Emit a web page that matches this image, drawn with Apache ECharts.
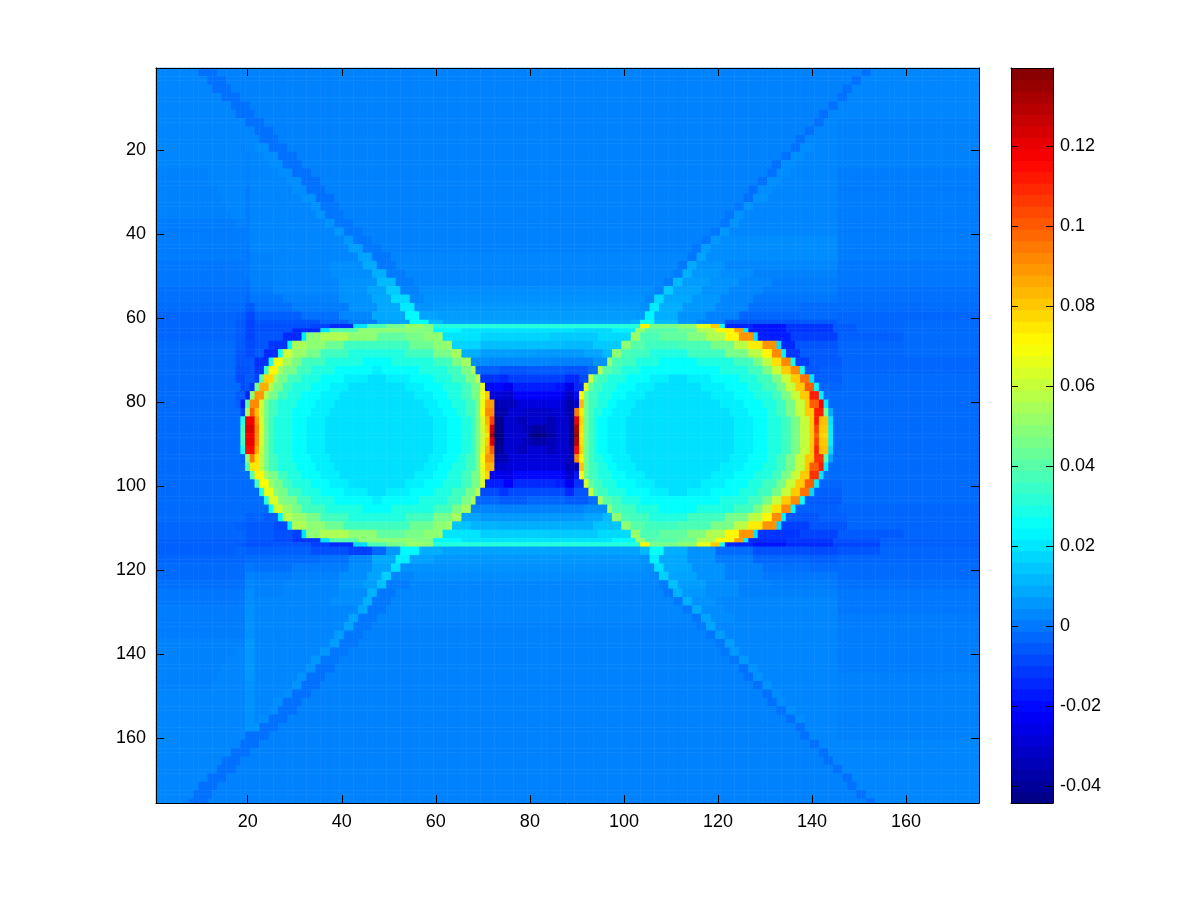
<!DOCTYPE html>
<html>
<head>
<meta charset="utf-8">
<title>heatmap</title>
<style>
  html, body { margin: 0; background: #fff; }
  #main { width: 1201px; height: 901px; }
</style>
<script src="https://cdn.jsdelivr.net/npm/echarts@6/dist/echarts.min.js"></script>
</head>
<body>
<div id="main"></div>
<script>
// axis ticks
const cellCount = 175;
const axisTicks = [20, 40, 60, 80, 100, 120, 140, 160];
const barTicks = [-0.04, -0.02, 0, 0.02, 0.04, 0.06, 0.08, 0.1, 0.12];
const barMin = -0.04425;
const barMax = 0.1395;
const barLevels = 64;
const jetStops = ['#000080', '#0000ff', '#0080ff', '#00ffff', '#80ff80', '#ffff00', '#ff8000', '#ff0000', '#800000'];

// row by row: [firstRow, lastRow, startCol, value, startCol, value, ...]
// a value holds until the next startCol, values are in thousandths
const rowRuns = [
  [1,2, 1,3,10,-1,14,2,151,-1,153,3],
  [3,4, 1,3,12,-1,16,2,149,-1,151,3],
  [5,6, 1,3,13,-1,17,2,147,-1,149,3],
  [7,8, 1,3,15,-1,19,2,146,-1,148,3],
  [9,10, 1,3,17,-1,21,2,144,-1,146,3],
  [11,12, 1,3,18,-1,22,2,142,-1,144,3],
  [13,14, 1,3,20,-1,24,2,141,-1,143,3,146,2],
  [15,16, 1,3,22,-1,26,2,139,-1,141,3,146,2],
  [17,18, 1,3,23,-1,27,2,137,-1,139,3,146,2],
  [19,20, 1,3,19,2,20,3,22,4,25,-1,29,2,136,-1,138,4,141,3,146,2],
  [21,22, 1,3,20,2,21,3,24,4,27,-1,31,2,134,-1,136,4,139,3,146,2],
  [23,24, 1,3,20,2,21,3,25,4,28,-1,32,2,132,-1,134,4,137,3,146,2],
  [25,26, 1,2,12,3,20,2,21,3,27,4,30,-1,34,2,131,-1,133,4,136,3,146,1],
  [27,28, 1,2,12,3,20,2,21,3,29,4,32,-1,36,2,129,-1,131,4,134,3,146,1],
  [29,30, 1,2,14,3,20,1,21,3,30,4,33,-1,37,2,127,-1,129,4,132,3,146,1],
  [31,32, 1,2,15,3,20,1,21,3,32,5,35,-1,39,2,126,-1,128,5,131,3,146,1],
  [33,34, 1,2,16,3,20,1,21,3,34,5,36,0,40,2,124,0,126,5,128,3,146,1],
  [35,36, 1,2,17,3,20,1,21,3,35,5,37,0,41,2,122,0,124,5,126,3,146,1],
  [37,38, 1,1,18,2,20,1,21,3,37,5,39,0,43,2,121,0,123,5,125,3,146,1],
  [39,40, 1,1,21,3,39,6,41,0,45,2,119,0,121,6,123,3,146,1],
  [41,42, 1,1,21,3,41,6,43,0,47,2,117,0,119,6,121,4,146,1],
  [43,44, 1,1,20,0,21,3,42,7,45,0,49,2,115,0,117,7,119,4,146,1],
  [45,46, 1,1,20,0,21,2,26,3,44,8,47,0,51,3,114,0,116,8,118,4,146,1],
  [47,48, 1,0,21,2,26,3,38,4,45,9,48,0,52,3,112,0,114,9,116,5,122,3,146,0],
  [49,50, 1,0,21,2,26,3,38,4,47,10,50,1,54,3,111,1,113,10,115,6,121,4,128,2,146,0],
  [51,52, 1,0,20,-1,21,2,26,3,40,5,48,12,52,1,56,3,109,1,111,12,113,7,119,5,125,3,132,1,146,0],
  [53,54, 1,-1,20,-2,21,1,26,3,40,5,46,8,50,15,53,2,57,4,107,2,109,15,111,8,117,5,123,3,130,1,146,-1],
  [55,56, 1,-1,20,-3,21,0,28,2,40,5,47,9,51,18,55,3,58,5,105,3,107,18,109,9,115,6,121,3,128,0,146,-1],
  [57,58, 1,-2,20,-5,22,-1,30,1,42,5,48,9,53,21,56,5,60,6,104,4,106,21,108,10,113,6,120,3,127,-1,138,-2,146,-2],
  [59,60, 1,-3,18,-4,20,-8,22,-4,32,-1,40,3,47,9,54,24,57,8,61,7,103,6,105,23,107,10,112,5,118,2,125,-3,138,-2,146,-3],
  [61,61, 1,-3,18,-5,20,-9,22,-6,32,-6,36,-3,42,1,48,8,55,26,59,12,62,8,102,10,104,28,107,12,112,6,116,2,122,-6,138,-5,146,-3,160,-2],
  [62,62, 1,-3,18,-5,20,-9,22,-7,34,-9,38,-14,43,20,46,38,50,45,54,52,58,48,60,31,104,72,106,46,112,50,116,66,119,80,121,28,122,-15,128,-18,135,-12,145,-5,150,-3,160,-2],
  [63,63, 1,-3,18,-5,20,-9,22,-7,30,-14,36,20,38,40,44,50,56,48,60,24,66,20,90,18,98,22,103,52,105,40,112,44,116,56,120,72,124,88,126,22,127,-17,135,-12,145,-5,150,-3,160,-2],
  [64,65, 1,-3,18,-5,20,-9,22,-6,28,-14,32,22,33,50,36,56,42,50,48,42,54,46,58,50,61,52,62,20,70,17,85,15,95,18,102,52,104,38,108,42,114,48,118,56,122,72,125,90,128,20,129,-16,136,-10,146,-4,160,-2],
  [66,67, 1,-2,18,-5,20,-8,22,-6,25,-12,29,24,30,55,33,50,37,44,41,36,55,44,60,50,63,54,64,17,70,13,88,12,94,15,100,50,102,40,105,36,112,38,119,46,124,58,127,74,130,90,133,18,134,-14,137,-6,146,-3,160,-2],
  [68,69, 1,-2,18,-6,20,-8,22,-5,24,-14,27,28,28,62,30,52,33,46,36,36,42,30,54,36,60,46,64,54,66,10,70,7,82,6,92,8,96,12,98,50,100,38,102,36,106,30,114,36,122,46,127,58,130,72,132,92,134,22,135,-12,138,-5,146,-3,160,-2],
  [70,71, 1,-2,18,-6,21,-5,22,-13,25,30,26,68,28,54,30,46,32,36,37,30,45,25,51,30,60,36,64,46,66,54,68,4,72,3,85,2,94,5,97,52,98,38,100,36,103,30,108,25,116,30,124,36,128,46,130,58,132,76,134,92,136,26,137,-10,140,-5,147,-3],
  [72,73, 1,-2,18,-7,21,-5,22,-12,24,35,25,72,27,54,28,46,31,36,34,30,39,25,47,22,49,25,57,30,63,36,66,46,68,56,69,-4,74,-6,80,-5,88,-6,93,-2,95,58,96,40,98,36,100,30,104,25,121,30,127,36,130,46,132,60,134,80,136,92,138,28,139,-6,142,-4,147,-3],
  [74,75, 1,-2,18,-8,20,-5,22,-10,23,40,24,78,26,54,27,46,29,36,32,30,36,25,41,22,46,19,50,22,55,25,60,30,64,36,67,46,69,58,70,-12,74,-14,76,-10,88,-14,91,-8,93,62,94,40,95,36,97,30,101,25,106,22,110,19,114,22,119,25,125,30,129,36,132,46,134,60,136,80,138,96,140,20,141,-4,147,-2],
  [76,77, 1,-2,19,-8,20,-6,21,-12,22,45,23,85,25,56,26,46,28,36,30,30,34,25,38,22,42,19,54,22,58,25,62,30,66,36,68,46,70,66,71,-20,75,-24,77,-16,86,-18,88,-26,90,-14,92,66,93,42,94,36,96,30,99,25,103,22,107,19,117,22,122,25,127,30,130,36,133,46,135,60,137,80,139,100,141,24,142,-3,147,-2],
  [78,79, 1,-2,18,-5,20,-16,21,50,22,90,24,56,25,46,27,36,29,30,32,25,36,22,40,19,56,22,60,25,63,30,66,36,68,46,70,68,71,80,72,-28,75,-30,77,-22,87,-24,88,-32,90,-20,91,72,92,46,93,36,95,30,98,25,101,22,105,19,119,22,124,25,128,30,132,36,134,46,136,60,138,80,140,112,142,22,143,-2],
  [80,81, 1,-2,18,-4,19,-16,20,40,21,92,23,62,24,46,25,36,27,30,31,25,35,22,39,19,58,22,61,25,64,30,67,36,69,46,70,68,71,88,73,-34,76,-33,78,-27,84,-26,87,-28,88,-36,90,-30,91,84,92,46,93,36,95,30,97,25,99,22,103,19,121,22,126,25,130,30,133,36,135,46,137,60,139,80,140,100,142,118,143,22,144,-2],
  [82,83, 1,-2,19,-10,20,55,21,100,22,82,23,60,24,46,25,36,27,30,30,25,34,22,38,19,59,22,62,25,65,30,67,36,69,46,70,70,71,92,73,-36,76,-29,79,-31,85,-29,88,-35,90,95,91,74,92,46,93,36,94,30,96,25,98,22,102,19,123,22,127,25,131,30,133,36,135,46,137,60,139,80,141,112,143,45,144,10,145,-2],
  [84,85, 1,-2,19,30,20,118,22,88,23,62,24,46,25,36,26,30,30,25,33,22,37,19,60,22,63,25,66,30,68,36,69,46,70,64,71,84,72,105,73,-42,75,-30,78,-34,80,-30,84,-34,86,-30,89,-40,90,120,91,78,92,46,93,36,94,30,95,25,97,22,101,19,124,22,128,25,131,30,134,36,136,46,138,60,140,80,141,112,142,82,144,20,145,-2],
  [86,87, 1,-2,19,36,20,122,22,92,23,64,24,46,25,36,26,30,30,25,33,22,37,19,60,22,63,25,66,30,68,36,69,46,70,62,71,80,72,125,73,-43,75,-30,79,-34,81,-38,84,-34,86,-30,89,-42,90,130,91,76,92,46,93,36,94,30,95,25,97,22,101,19,124,22,128,25,131,30,134,36,136,46,138,60,140,80,141,105,142,80,144,22,145,-2],
  [88,88, 1,-2,19,38,20,118,22,90,23,62,24,46,25,36,26,30,30,25,33,22,37,19,60,22,63,25,66,30,68,36,69,46,70,60,71,75,72,135,73,-44,75,-30,80,-38,81,-44,84,-38,86,-30,89,-42,90,135,91,74,92,46,93,36,94,30,95,25,97,22,101,19,124,22,128,25,131,30,134,36,136,46,138,60,140,80,141,100,142,78,144,22,145,-2],
  [89,90, 1,-2,19,36,20,120,22,90,23,62,24,46,25,36,26,30,30,25,33,22,37,19,60,22,63,25,66,30,68,36,69,46,70,62,71,80,72,122,73,-43,75,-30,79,-34,81,-37,84,-34,86,-30,89,-42,90,128,91,76,92,46,93,36,94,30,95,25,97,22,101,19,124,22,128,25,131,30,134,36,136,46,138,60,140,80,141,105,142,80,144,22,145,-2],
  [91,92, 1,-2,19,28,20,115,22,85,23,60,24,46,25,36,26,30,30,25,33,22,37,19,60,22,63,25,66,30,68,36,69,46,70,64,71,84,72,100,73,-40,75,-30,78,-33,80,-29,84,-33,86,-30,89,-38,90,115,91,78,92,46,93,36,94,30,95,25,97,22,101,19,124,22,128,25,131,30,134,36,136,46,138,60,140,80,141,110,142,82,144,18,145,-2],
  [93,94, 1,-2,19,-4,20,50,21,95,22,76,23,58,24,46,25,36,27,30,30,25,34,22,38,19,59,22,62,25,65,30,67,36,69,46,70,70,71,90,73,-35,76,-28,88,-33,90,92,91,72,92,46,93,36,94,30,96,25,98,22,102,19,123,22,127,25,131,30,133,36,135,46,137,60,139,80,141,108,143,40,144,8,145,-2],
  [95,96, 1,-2,20,38,21,75,23,58,24,46,25,36,27,30,31,25,35,22,39,19,58,22,61,25,64,30,67,36,69,46,70,68,71,84,73,-30,76,-27,86,-27,88,-34,91,82,92,46,93,36,95,30,97,25,99,22,103,19,121,22,126,25,130,30,133,36,135,46,137,60,139,80,140,100,142,112,143,22,144,-2],
  [97,98, 1,-2,21,40,22,72,24,54,25,46,27,36,29,30,32,25,36,22,40,19,56,22,60,25,63,30,66,36,68,46,70,66,71,78,72,-24,75,-26,77,-20,87,-22,88,-30,90,-18,91,70,92,46,93,36,95,30,98,25,101,22,105,19,119,22,124,25,128,30,132,36,134,46,136,60,138,80,140,108,142,20,143,-2],
  [99,100, 1,-2,22,36,23,70,25,52,26,46,28,36,30,30,34,25,38,22,42,19,54,22,58,25,62,30,66,36,68,46,70,64,71,-16,75,-22,77,-14,86,-16,88,-24,90,-12,92,64,93,42,94,36,96,30,99,25,103,22,107,19,117,22,122,25,127,30,130,36,133,46,135,60,137,80,139,100,141,22,142,-3,147,-2],
  [101,102, 1,-2,23,30,24,66,26,50,27,46,29,36,32,30,36,25,41,22,46,19,50,22,55,25,60,30,64,36,67,46,69,58,70,-8,74,-12,76,-8,86,-8,88,-14,90,-6,93,60,94,40,95,36,97,30,101,25,106,22,110,19,114,22,119,25,125,30,129,36,132,46,134,60,136,80,138,96,140,18,141,-4,147,-2],
  [103,104, 1,-2,24,30,25,64,27,50,28,46,31,36,34,30,39,25,47,22,49,25,57,30,63,36,66,46,68,56,69,-3,74,-5,80,-3,88,-5,93,-2,95,56,96,40,98,36,100,30,104,25,121,30,127,36,130,46,132,60,134,80,136,92,138,26,139,-5,147,-2],
  [105,106, 1,-2,25,26,26,62,28,52,30,46,32,36,37,30,45,25,51,30,60,36,64,46,66,54,68,3,74,2,86,2,92,4,97,52,98,38,100,36,103,30,108,25,116,30,124,36,128,46,130,58,132,76,134,92,136,24,137,-4,146,-3],
  [107,108, 1,-2,20,-4,22,-3,24,-5,27,24,28,58,30,52,33,46,36,36,42,30,54,36,60,46,64,54,66,8,70,6,82,6,92,8,96,12,98,50,100,38,102,36,106,30,114,36,122,46,127,58,130,72,132,92,134,22,135,-6,142,-4,148,-3],
  [109,110, 1,-3,18,-4,20,-5,26,-8,29,22,30,56,33,50,37,44,41,36,55,44,60,50,63,54,64,14,68,11,74,10,88,10,94,14,100,50,102,40,105,36,112,38,119,46,124,58,127,74,130,90,133,18,134,-10,140,-6,148,-3],
  [111,112, 1,-3,20,-5,26,-7,30,-10,32,20,33,50,36,56,42,50,48,42,54,46,58,50,61,52,62,20,70,16,85,15,95,18,102,52,104,38,108,42,114,48,118,56,122,72,125,90,128,20,129,-12,138,-9,146,-5,160,-3],
  [113,113, 1,-4,20,-6,26,-8,30,-12,36,20,38,40,44,50,56,48,60,24,66,20,90,20,98,24,103,52,105,40,112,44,116,56,120,72,124,88,126,22,127,-14,135,-12,145,-7,155,-4],
  [114,114, 1,-4,18,-5,20,-7,26,-6,34,-10,38,-14,43,18,46,38,50,45,54,52,58,50,60,31,104,72,106,46,112,50,116,66,119,80,121,28,122,-15,128,-18,135,-14,145,-9,155,-4],
  [115,116, 1,-4,18,-3,20,-4,26,-4,34,-7,42,-10,47,-3,50,6,53,24,57,10,62,8,100,8,104,12,106,26,109,10,114,5,120,-2,128,-7,140,-8,146,-6,155,-3],
  [117,118, 1,-3,20,-2,28,-2,36,-1,42,3,47,9,52,22,55,8,60,6,104,5,106,22,108,9,114,5,120,1,128,-3,140,-4,146,-3],
  [119,120, 1,-2,20,0,22,-1,30,1,42,4,47,8,51,19,53,5,58,5,105,4,107,19,109,9,115,5,122,2,130,-1,140,-2,146,-2],
  [121,122, 1,-2,20,2,22,1,30,2,40,4,46,8,49,16,51,3,56,4,106,3,108,16,110,8,116,5,122,2,130,0,146,-2],
  [123,124, 1,-1,20,3,22,2,28,3,40,5,45,7,48,13,50,1,55,3,108,1,110,13,112,7,118,4,125,2,132,1,146,-1],
  [125,126, 1,0,20,4,22,2,28,3,40,4,46,11,48,0,52,3,109,0,111,11,113,6,118,4,125,2,132,2,146,0],
  [127,128, 1,0,20,4,22,3,38,4,45,10,47,0,51,3,111,0,113,10,115,5,120,3,146,0],
  [129,130, 1,1,20,5,22,3,44,9,46,0,50,3,113,0,115,9,117,4,122,3,146,0],
  [131,132, 1,1,20,5,22,3,42,8,44,0,48,3,115,0,117,8,119,4,124,3,146,1],
  [133,134, 1,1,20,5,22,3,41,8,43,0,47,2,116,0,118,8,120,3,146,1],
  [135,136, 1,1,20,5,22,3,39,7,41,0,45,2,118,0,120,7,122,3,146,1],
  [137,138, 1,2,20,6,22,3,38,7,40,0,44,2,120,0,122,7,124,3,146,1],
  [139,140, 1,2,18,3,20,6,22,3,36,6,38,0,42,2,121,0,123,6,125,3,146,1],
  [141,142, 1,2,16,3,20,6,22,3,34,6,36,0,40,2,123,0,125,6,127,3,146,1],
  [143,144, 1,2,15,3,20,6,22,3,33,5,35,-1,39,2,125,-1,127,5,129,3,146,1],
  [145,146, 1,2,14,3,20,6,22,3,31,5,33,-1,37,2,126,-1,128,5,130,3,146,2],
  [147,148, 1,2,13,3,20,5,22,3,30,5,32,-1,36,2,128,-1,130,5,132,3,146,2],
  [149,150, 1,3,20,5,22,3,28,4,30,-1,34,2,130,-1,132,4,134,3,146,2],
  [151,152, 1,3,20,5,22,3,26,4,28,-1,32,2,131,-1,133,4,135,3,146,2],
  [153,154, 1,3,20,5,22,3,25,4,27,-1,31,2,133,-1,135,4,137,3,146,2],
  [155,156, 1,3,20,5,22,3,23,4,25,-1,29,2,135,-1,137,4,139,3,146,2],
  [157,158, 1,3,20,5,23,-1,27,2,137,-1,139,3,146,2],
  [159,160, 1,3,20,-1,25,2,138,-1,140,3,146,2],
  [161,162, 1,3,19,-1,23,2,140,-1,142,3,146,3],
  [163,164, 1,3,17,-1,21,2,142,-1,144,3],
  [165,166, 1,3,15,-1,19,2,143,-1,145,3],
  [167,168, 1,3,14,-1,18,2,145,-1,147,3],
  [169,170, 1,3,12,-1,16,2,147,-1,149,3],
  [171,172, 1,3,10,-1,14,2,148,-1,150,3],
  [173,174, 1,3,9,-1,13,2,150,-1,152,3],
  [175,175, 1,3,8,-1,12,2,152,-1,154,3]
];

// unpack the runs into heatmap cells
const cells = [];
rowRuns.forEach(function (run) {
  for (let r = run[0]; r <= run[1]; r++) {
    for (let k = 2; k < run.length; k += 2) {
      const next = k + 2 < run.length ? run[k + 2] : cellCount + 1;
      for (let c = run[k]; c < next; c++) {
        cells.push([c - 1, r - 1, run[k + 1] / 1000]);
      }
    }
  }
});

const cellNames = [];
for (let i = 1; i <= cellCount; i++) cellNames.push(String(i));

// colour bar bands
const bands = [];
const bandStep = (barMax - barMin) / barLevels;
for (let i = 0; i < barLevels; i++) {
  const lo = barMin + i * bandStep;
  bands.push([lo, lo + bandStep, lo + bandStep / 2]);
}

const labelFont = { color: '#000', fontFamily: 'Liberation Sans', fontSize: 18 };
const line = { show: true, onZero: false, lineStyle: { color: '#000', width: 1 } };
const showTick = function (i) { return axisTicks.indexOf(i + 1) >= 0; };

function mainX(position, labelled) {
  return {
    type: 'category', gridIndex: 0, position: position, data: cellNames, axisLine: line, z: 10,
    splitLine: { show: false },
    axisTick: { show: true, inside: true, length: 8, alignWithLabel: true, interval: showTick, lineStyle: { color: '#000' } },
    axisLabel: Object.assign({ show: labelled, interval: showTick, margin: 10 }, labelFont)
  };
}
function mainY(position, labelled) {
  const axis = mainX(position, labelled);
  axis.inverse = true;
  return axis;
}
function barX(position) {
  return {
    type: 'value', gridIndex: 1, position: position, min: 0, max: 1, axisLine: line, z: 10,
    axisTick: { show: false }, axisLabel: { show: false }, splitLine: { show: false }
  };
}
function barY(position, labelled) {
  return {
    type: 'value', gridIndex: 1, position: position, min: barMin, max: barMax, axisLine: line, z: 10,
    splitLine: { show: false },
    axisTick: { show: true, inside: true, length: 7, customValues: barTicks, lineStyle: { color: '#000' } },
    axisLabel: Object.assign({
      show: labelled, margin: 7, customValues: barTicks,
      formatter: function (v) { return String(Math.round(v * 100) / 100); }
    }, labelFont)
  };
}

const chart = echarts.init(document.getElementById('main'), null, { renderer: 'canvas' });
chart.setOption({
  animation: false,
  backgroundColor: '#fff',
  grid: [
    { left: 156, top: 68, width: 823, height: 735 },
    { left: 1011, top: 68, width: 42, height: 735 }
  ],
  xAxis: [mainX('bottom', true), mainX('top', false), barX('bottom'), barX('top')],
  yAxis: [mainY('left', true), mainY('right', false), barY('left', false), barY('right', true)],
  visualMap: {
    type: 'continuous', show: false, min: barMin, max: barMax,
    dimension: 2, seriesIndex: [0, 1], inRange: { color: jetStops }
  },
  series: [
    {
      type: 'heatmap', xAxisIndex: 0, yAxisIndex: 0, data: cells,
      progressive: 0, itemStyle: { borderWidth: 0 }
    },
    {
      type: 'custom', xAxisIndex: 2, yAxisIndex: 3, data: bands,
      encode: { y: [0, 1] },
      renderItem: function (params, api) {
        const a = api.coord([0, api.value(0)]);
        const b = api.coord([1, api.value(1)]);
        return {
          type: 'rect',
          shape: { x: a[0], y: b[1], width: b[0] - a[0], height: a[1] - b[1] + 1 },
          style: { fill: api.visual('color') }
        };
      }
    }
  ]
});
</script>
</body>
</html>
